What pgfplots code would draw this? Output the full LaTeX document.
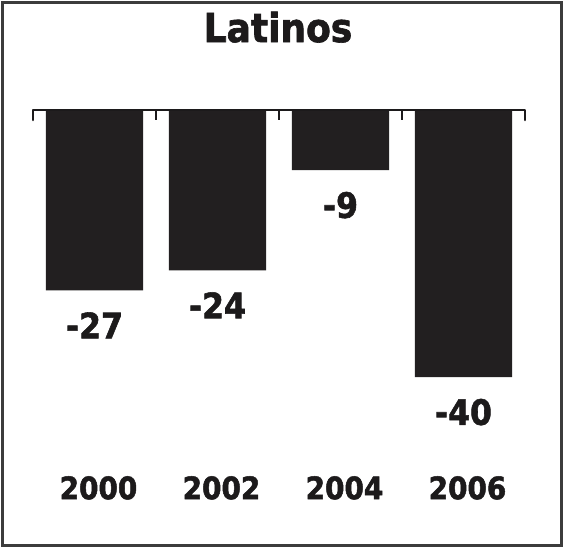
\documentclass[border=0pt]{standalone}
\usepackage{pgfplots}
\pgfplotsset{compat=1.18}
\usepackage{fontspec}
\setmainfont{DejaVu Sans Condensed}[BoldFeatures={FakeBold=1.6}]
\definecolor{ink}{RGB}{28,26,27}
\definecolor{barfill}{RGB}{34,31,32}
\definecolor{framec}{RGB}{60,60,60}
\begin{document}
\begin{tikzpicture}
% page area and outer frame
\useasboundingbox (0,0) rectangle (282pt,-274pt);
\draw[line width=1.3pt, color=framec] (1.2pt,-1.2pt) rectangle (280.8pt,-272.8pt);
\node[font=\bfseries\fontsize{20}{22}\selectfont, text=ink] at (139pt,-13.6pt) {Latinos};
\begin{axis}[
  at={(16.5pt,-55pt)}, anchor=north west,
  scale only axis, width=246pt, height=207pt,
  xmin=0, xmax=4, ymin=-62, ymax=0,
  axis lines=none,
  xtick=\empty, ytick=\empty,
  ybar, bar width=0.79, bar shift=0pt,
  point meta=explicit symbolic,
  nodes near coords,
  nodes near coords style={anchor=center, yshift=-17.5pt, text=ink,
    font=\bfseries\fontsize{17.5}{19}\selectfont},
  clip=false,
]
\addplot[fill=barfill, draw=none] coordinates {
  (0.5,-27) [-27]
  (1.5,-24) [-24]
  (2.5,-9)  [-9]
  (3.5,-40) [-40]
};
% zero line with category separators hanging below it
\draw[ink, line width=1.3pt, line cap=round, line join=round]
  ([yshift=-5pt]axis cs:0,0) -- (axis cs:0,0) -- (axis cs:4,0) -- ([yshift=-5pt]axis cs:4,0);
\pgfplotsinvokeforeach{1,2,3}{
  \draw[ink, line width=1.1pt] (axis cs:#1,0) -- ([yshift=-5pt]axis cs:#1,0);
}
% category names under the bars
\tikzset{yearlab/.style={font=\bfseries\fontsize{15.5}{17}\selectfont, text=ink, xshift=2pt}}
\node[yearlab] at (axis cs:0.5,-56.6) {2000};
\node[yearlab] at (axis cs:1.5,-56.6) {2002};
\node[yearlab] at (axis cs:2.5,-56.6) {2004};
\node[yearlab] at (axis cs:3.5,-56.6) {2006};
\end{axis}
\end{tikzpicture}
\end{document}
